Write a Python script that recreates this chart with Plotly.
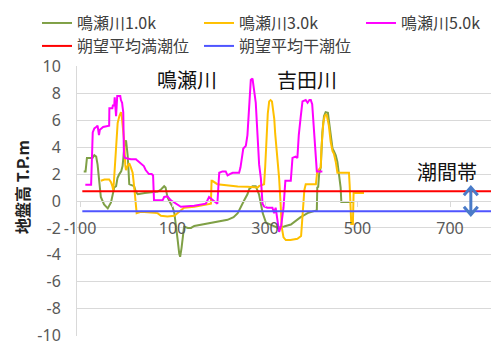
import plotly.graph_objects as go

# Cross-section distance (m) and ground elevation (T.P. m) for each survey line
x_10k = [-92, -88, -85, -80, -73, -69, -65, -62, -58, -55, -48, -40, -33, -29, -26, -22, -19, -15, -11, -8,
         -6, -3.5, -0.5, 3, 5, 6.5, 10, 17, 21, 25, 40, 60, 68, 75, 82, 85, 89, 93, 100, 104,
         107, 111, 114.5, 116.5, 119.5, 122, 125, 133, 140, 147, 161, 176, 183, 197, 219, 232, 241, 255, 262, 266,
         273, 280, 287, 291, 295, 302, 315, 328, 341, 356, 377, 392, 406, 412, 413, 415, 417, 420.5, 424, 427.5,
         431, 436, 438, 442, 446, 449, 453, 456.5, 460, 463.5, 465, 492]
z_10k = [2.2, 2.2, 3.2, 3.2, 3.2, 3.4, 3.3, 2.7, 1.3, 0.3, -0.25, -0.55, -0.1, 0.65, 1.0, 1.1, 1.7, 2.0, 2.2, 2.6,
         3.4, 4.2, 4.5, 3.4, 2.2, 1.25, 1.2, 1.1, 0.65, 0.5, 0.6, 0.7, 0.7, 0.85, 1.1, 1.0, 0.3, 0.0, -0.43, -0.9,
         -1.6, -2.85, -3.9, -4.15, -3.5, -2.6, -1.9, -2.0, -2.0, -1.85, -1.76, -1.7, -1.64, -1.52, -1.4, -1.2, -0.9, 0.05, 0.5, 0.9,
         1.1, 1.1, 0.5, -0.2, -0.9, -1.6, -1.8, -2.0, -1.9, -1.75, -1.2, -0.9, -0.75, -0.7, 1.0, 1.05, 2.0, 2.5, 5.1, 6.3,
         6.6, 6.55, 6.0, 4.9, 3.9, 3.7, 3.4, 2.9, 2.0, 1.0, -0.07, -0.07]

x_30k = [-55, -47, -37, -33, -30, -28, -26, -24, -20.7, -18.6, -15, -11.4, -9.8, -7.8, -4.3, -2.2, -0.6, 3, 6.5, 10,
         13.8, 17.3, 20, 22.5, 31.7, 50, 67.8, 75, 89, 104, 111, 118, 125, 147, 168.5, 183, 184.4, 186, 197, 219,
         241, 262, 273, 284, 287, 298, 300.5, 303, 306, 309, 312, 315, 317, 320, 322, 323.5, 327, 328.5, 330.5, 334,
         336, 340, 345, 355, 370, 378, 382, 385, 388, 392, 399, 410, 413, 418, 420.5, 422, 426, 429, 432, 434,
         438, 442, 446, 449, 453, 456.5, 481.5, 483, 485.3, 486.5, 490, 491.5, 514]
z_30k = [1.5, 1.6, 1.6, 1.4, 1.1, 0.8, 1.8, 3.0, 4.6, 5.8, 6.3, 6.6, 6.3, 5.4, 4.4, 2.7, 2.3, 2.6, 2.8, 2.5,
         2.1, 1.0, 0.0, -0.9, -0.8, -0.85, -0.9, -1.1, -1.15, -1.1, -0.9, -0.66, -0.5, -0.43, -0.3, -0.2, 1.5, 1.5, 1.25, 1.15,
         1.07, 1.05, 1.0, 1.0, 1.1, 1.25, 2.6, 4.5, 6.5, 7.4, 7.5, 7.4, 6.8, 6.1, 5.0, 4.4, 2.7, 2.3, 1.7, -0.4,
         -1.9, -2.7, -2.9, -2.9, -2.8, -2.6, -1.0, 0.8, 1.25, 1.25, 1.2, 1.25, 2.2, 2.4, 2.5, 3.9, 5.8, 6.3, 6.45, 6.3,
         5.6, 4.4, 3.7, 3.5, 2.9, 2.1, 2.1, 1.2, -0.43, -1.7, -1.7, 0.6, 0.6]

x_50k = [-88.5, -76, -72.5, -69, -65, -62, -59, -57, -50, -37, -36.5, -30, -29, -26, -25, -22, -19.5, -13, -11.5, -9,
         -8, -6.5, -5, -3, 10, 21, 24, 30, 38, 42, 49, 55, 58, 60, 78.5, 82, 89, 96.5, 107, 118,
         147, 172, 179, 189, 197, 201, 208, 215, 219, 224, 230, 244, 247, 253, 258.5, 262, 265.7, 269.3, 273, 275.8,
         280, 283.8, 287.3, 291, 294.6, 298, 305, 316, 319.7, 323, 327, 330.5, 335, 340, 344, 348, 355.7, 359.4, 366, 370,
         373, 377, 381, 388, 392, 396, 399, 402, 406, 409.7, 412, 424]
z_50k = [1.2, 1.2, 5.1, 5.4, 5.5, 5.6, 4.9, 5.3, 5.5, 5.6, 6.9, 6.9, 7.1, 7.1, 7.7, 6.3, 7.8, 7.8, 7.5, 7.3,
         7.0, 6.6, 3.4, 3.2, 3.1, 3.1, 3.0, 2.8, 2.6, 2.3, 2.0, 2.0, 1.9, 0.05, 0.05, 0.3, 0.35, 0.05, -0.2, -0.43,
         -0.35, -0.2, 0.3, 0.0, -0.2, 2.1, 2.2, 2.2, 1.9, 2.0, 2.1, 2.1, 2.5, 3.9, 4.1, 4.9, 6.8, 9.0, 9.1, 8.5,
         7.3, 4.9, 2.7, 1.7, -0.2, -0.4, -0.5, -0.5, -0.9, -0.5, -1.4, -2.3, -1.8, -0.5, 1.5, 1.5, 1.5, 3.2, 3.3, 3.2,
         4.9, 6.2, 7.4, 7.5, 7.3, 7.5, 7.5, 7.2, 5.4, 3.4, 2.2, 2.2]

# Mean spring-tide high / low water levels (T.P. m)
tide_x = [-95, 800]
mean_high_water = 0.72
mean_low_water = -0.76

series_names = ["鳴瀬川1.0k", "鳴瀬川3.0k", "鳴瀬川5.0k", "朔望平均満潮位", "朔望平均干潮位"]
x_ticks = [-100, 100, 300, 500, 700]
x_tick_text = ["-100", "100", "300", "500", "700"]
y_ticks = [-10, -8, -6, -4, -2, 0, 2, 4, 6, 8, 10]
y_tick_text = ["-10", "-8", "-6", "-4", "-2", "0", "2", "4", "6", "8", "10"]

# Double-headed marker spanning the intertidal zone
zone_x = 745
zone_top = 1.02
zone_bottom = -1.02

CJK = "Noto Sans CJK JP, Noto Sans, sans-serif"
NUM = "Noto Sans, Noto Sans CJK JP, sans-serif"

fig = go.Figure()
fig.add_trace(go.Scatter(x=x_10k, y=z_10k, mode="lines", name=series_names[0],
                         line=dict(color="#7FA046", width=2), legend="legend"))
fig.add_trace(go.Scatter(x=x_30k, y=z_30k, mode="lines", name=series_names[1],
                         line=dict(color="#FFC000", width=2), legend="legend"))
fig.add_trace(go.Scatter(x=x_50k, y=z_50k, mode="lines", name=series_names[2],
                         line=dict(color="#FF00FF", width=2), legend="legend"))
fig.add_trace(go.Scatter(x=tide_x, y=[mean_high_water] * 2, mode="lines", name=series_names[3],
                         line=dict(color="#FF0000", width=2), legend="legend2"))
fig.add_trace(go.Scatter(x=tide_x, y=[mean_low_water] * 2, mode="lines", name=series_names[4],
                         line=dict(color="#4F55FF", width=2), legend="legend2"))

legend_common = dict(orientation="h", xanchor="left", x=-0.0966, yanchor="middle",
                     entrywidth=117, entrywidthmode="pixels",
                     font=dict(family=CJK, size=16, color="#404040"),
                     bgcolor="rgba(0,0,0,0)", borderwidth=0)

fig.update_layout(
    width=491, height=347,
    margin=dict(l=77, r=0, t=66, b=11, autoexpand=False),
    paper_bgcolor="white", plot_bgcolor="white",
    font=dict(family=CJK, color="#595959"),
    showlegend=True,
    legend=dict(legend_common, y=1.159),
    legend2=dict(legend_common, y=1.074),
    xaxis=dict(range=[-106.5, 788.6], tickvals=x_ticks, ticktext=x_tick_text,
               anchor="free", position=0.5,
               showline=True, linecolor="#D9D9D9", linewidth=1,
               ticks="outside", ticklen=5, tickcolor="#D9D9D9",
               showgrid=False, zeroline=False,
               tickfont=dict(family=NUM, size=16, color="#595959"), ticklabelstandoff=8),
    yaxis=dict(range=[-10.03, 10.03], tickvals=y_ticks, ticktext=y_tick_text,
               showgrid=True, gridcolor="#D9D9D9", gridwidth=1,
               showline=True, linecolor="#D9D9D9", zeroline=False, ticks="",
               ticklabeloverflow="allow",
               tickfont=dict(family=NUM, size=16, color="#595959"), ticklabelstandoff=12),
)

# River labels and the intertidal zone label
fig.add_annotation(x=131, y=9.06, xref="x", yref="y", text="鳴瀬川", showarrow=False,
                   font=dict(family=CJK, size=20, color="#111111"))
fig.add_annotation(x=391, y=9.06, xref="x", yref="y", text="吉田川", showarrow=False,
                   font=dict(family=CJK, size=20, color="#111111"))
fig.add_annotation(x=693, y=2.2, xref="x", yref="y", text="潮間帯", showarrow=False,
                   font=dict(family=CJK, size=20, color="#111111"))

# Arrow shaft and chevron heads
arrow_style = dict(color="#4A7BC8", width=3)
fig.add_shape(type="line", xref="x", yref="y", x0=zone_x, x1=zone_x, y0=zone_bottom, y1=zone_top,
              line=arrow_style)
half_w = 15
head_h = 0.6
fig.add_shape(type="path", xref="x", yref="y",
              path=f"M {zone_x - half_w},{zone_top - head_h} L {zone_x},{zone_top} L {zone_x + half_w},{zone_top - head_h}",
              line=arrow_style)
fig.add_shape(type="path", xref="x", yref="y",
              path=f"M {zone_x - half_w},{zone_bottom + head_h} L {zone_x},{zone_bottom} L {zone_x + half_w},{zone_bottom + head_h}",
              line=arrow_style)

# Vertical axis title
fig.add_annotation(x=-0.133, y=0.552, xref="paper", yref="paper", text="<b>地盤高 T.P.m</b>",
                   textangle=-90, showarrow=False, xanchor="center", yanchor="middle",
                   font=dict(family=CJK, size=16, color="#222222"))

fig.write_html("out.html")
